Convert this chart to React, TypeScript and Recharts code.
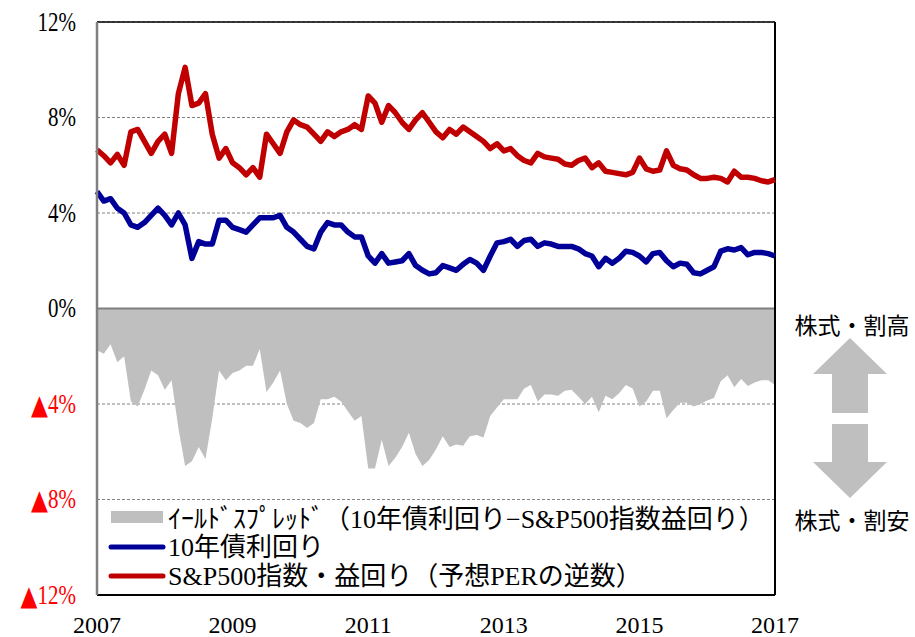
import { ComposedChart, Area, Line, XAxis, YAxis, CartesianGrid, ReferenceLine } from 'recharts'

// weekly-ish samples, one every 0.1 year from 2007.0 to 2017.0
const START_YEAR = 2007
const STEP = 0.1

// S&P500 forward earnings yield (%)
const earningsYield = [
  6.65, 6.4, 6.1, 6.45, 6.0, 7.4, 7.5, 7.0, 6.5, 7.0,
  7.3, 6.5, 9.0, 10.1, 8.5, 8.6, 9.0, 7.3, 6.3, 6.7,
  6.1, 5.9, 5.6, 5.9, 5.5, 7.3, 6.9, 6.5, 7.4, 7.9,
  7.7, 7.6, 7.3, 7.0, 7.4, 7.2, 7.4, 7.5, 7.7, 7.5,
  8.9, 8.6, 7.8, 8.5, 8.2, 7.8, 7.5, 7.9, 8.2, 7.8,
  7.4, 7.15, 7.5, 7.3, 7.6, 7.4, 7.2, 7.0, 6.7, 6.9,
  6.6, 6.7, 6.4, 6.2, 6.1, 6.5, 6.35, 6.3, 6.25, 6.05,
  6.0, 6.2, 6.3, 5.9, 6.1, 5.75, 5.7, 5.65, 5.6, 5.7,
  6.3, 5.85, 5.75, 5.8, 6.6, 6.0, 5.85, 5.8, 5.6, 5.45,
  5.45, 5.5, 5.45, 5.3, 5.75, 5.5, 5.5, 5.45, 5.35, 5.3,
  5.4,
]

// US 10y treasury yield (%)
const bondYield = [
  4.9, 4.5, 4.6, 4.2, 4.0, 3.5, 3.4, 3.6, 3.9, 4.2,
  3.9, 3.5, 4.0, 3.5, 2.1, 2.8, 2.7, 2.7, 3.7, 3.7,
  3.4, 3.3, 3.2, 3.5, 3.8, 3.8, 3.8, 3.9, 3.4, 3.2,
  2.9, 2.6, 2.5, 3.2, 3.6, 3.5, 3.5, 3.2, 3.0, 3.0,
  2.2, 1.9, 2.3, 1.9, 1.95, 2.0, 2.3, 1.8, 1.6, 1.45,
  1.5, 1.8, 1.7, 1.6, 1.85, 2.05, 1.9, 1.6, 2.2, 2.75,
  2.8, 2.9, 2.6, 2.85, 2.9, 2.6, 2.75, 2.7, 2.6, 2.6,
  2.6, 2.5, 2.3, 2.2, 1.75, 2.1, 1.9, 2.1, 2.4, 2.35,
  2.2, 1.95, 2.3, 2.35, 2.0, 1.75, 1.9, 1.85, 1.5, 1.45,
  1.6, 1.75, 2.4, 2.5, 2.45, 2.55, 2.25, 2.35, 2.35, 2.3,
  2.2,
]

// yield spread, 10y minus earnings yield (%)
const yieldSpread = [
  -1.75, -1.9, -1.5, -2.25, -2.0, -3.9, -4.1, -3.4, -2.6, -2.8,
  -3.4, -3.0, -5.0, -6.6, -6.4, -5.8, -6.3, -4.6, -2.6, -3.0,
  -2.7, -2.6, -2.4, -2.4, -1.7, -3.5, -3.1, -2.6, -4.0, -4.7,
  -4.8, -5.0, -4.8, -3.8, -3.8, -3.7, -3.9, -4.3, -4.7, -4.5,
  -6.7, -6.7, -5.5, -6.6, -6.25, -5.8, -5.2, -6.1, -6.6, -6.35,
  -5.9, -5.35, -5.8, -5.7, -5.75, -5.35, -5.3, -5.4, -4.5, -4.15,
  -3.8, -3.8, -3.8, -3.35, -3.2, -3.9, -3.6, -3.6, -3.65, -3.45,
  -3.4, -3.7, -4.0, -3.7, -4.35, -3.65, -3.8, -3.55, -3.2, -3.35,
  -4.1, -3.9, -3.45, -3.45, -4.6, -4.25, -3.95, -3.95, -4.1, -4.0,
  -3.85, -3.75, -3.05, -2.8, -3.3, -2.95, -3.25, -3.1, -3.0, -3.0,
  -3.2,
]

const yearTicks = [2007, 2009, 2011, 2013, 2015, 2017]
const pctTicks = [-12, -8, -4, 0, 4, 8, 12]

const legendLabels = [
  'ｲｰﾙﾄﾞｽﾌﾟﾚｯﾄﾞ（10年債利回り−S&P500指数益回り）',
  '10年債利回り',
  'S&P500指数・益回り（予想PERの逆数）',
]
const sideLabels = ['株式・割高', '株式・割安']

const RED = '#C00000'
const BLUE = '#000099'
const GRAY = '#BFBFBF'
const SERIF = "'Liberation Serif', 'DejaVu Serif', serif"
const JP = "'Liberation Serif', 'Noto Sans CJK JP', sans-serif"

const chartData = earningsYield.map((v, i) => ({
  t: Math.round((START_YEAR + i * STEP) * 100) / 100,
  earnings: v,
  bond: bondYield[i],
  spread: yieldSpread[i],
}))

// the original labels use a tall, narrow face; stretch vertically a bit
function PctTick({ x, y, payload }: any) {
  const v = payload.value as number
  const neg = v < 0
  return (
    <text
      transform={`translate(${x},${y}) scale(1,1.25)`}
      textAnchor="end"
      dominantBaseline="central"
      fill={neg ? '#FF0000' : '#000'}
      fontSize={21}
      fontFamily={SERIF}
    >
      {neg && <tspan fontFamily="'DejaVu Sans', sans-serif" fontSize={22}>▲</tspan>}
      <tspan>{`${Math.abs(v)}%`}</tspan>
    </text>
  )
}

function YearTick({ x, y, payload }: any) {
  return (
    <text x={x} y={y + 38} textAnchor="middle" fill="#000" fontSize={24} fontFamily={SERIF}>
      {payload.value}
    </text>
  )
}

export default function App() {
  return (
    <div style={{ position: 'absolute', left: 0, top: 0, width: 915, height: 637, background: '#fff' }}>
      <ComposedChart
        width={915}
        height={637}
        data={chartData}
        margin={{ top: 22, right: 140, left: 7, bottom: 2 }}
      >
        <CartesianGrid vertical={false} stroke="#808080" strokeDasharray="3 2" />
        <XAxis
          dataKey="t"
          type="number"
          domain={[2007, 2017]}
          ticks={yearTicks}
          height={40}
          tickSize={0}
          tickMargin={0}
          tickLine={false}
          axisLine={{ stroke: '#000', strokeWidth: 2 }}
          tick={<YearTick />}
        />
        <YAxis
          type="number"
          domain={[-12, 12]}
          ticks={pctTicks}
          width={90}
          tickSize={0}
          tickMargin={21}
          tickLine={false}
          axisLine={{ stroke: '#808080', strokeWidth: 2.5 }}
          tick={<PctTick />}
        />
        <Area
          dataKey="spread"
          type="linear"
          stroke="none"
          fill={GRAY}
          fillOpacity={1}
          isAnimationActive={false}
        />
        <ReferenceLine y={0} stroke="#808080" strokeWidth={2} />
        <ReferenceLine y={12} stroke="#000" strokeWidth={1.5} />
        <ReferenceLine x={2017} stroke="#000" strokeWidth={2} />
        <Line
          dataKey="bond"
          type="linear"
          stroke={BLUE}
          strokeWidth={5.5}
          strokeLinejoin="round"
          dot={false}
          isAnimationActive={false}
        />
        <Line
          dataKey="earnings"
          type="linear"
          stroke={RED}
          strokeWidth={5.5}
          strokeLinejoin="round"
          dot={false}
          isAnimationActive={false}
        />
      </ComposedChart>

      <svg
        width={915}
        height={637}
        style={{ position: 'absolute', left: 0, top: 0, pointerEvents: 'none' }}
      >
        {/* legend */}
        <rect x={111} y={511} width={52} height={12} fill={GRAY} />
        <line x1={111} x2={163} y1={547} y2={547} stroke={BLUE} strokeWidth={5} strokeLinecap="round" />
        <line x1={111} x2={163} y1={576} y2={576} stroke={RED} strokeWidth={5} strokeLinecap="round" />
        {legendLabels.map((label, i) => (
          <text
            key={label}
            x={168}
            y={[519, 547, 576][i]}
            dominantBaseline="central"
            fontSize={26}
            fontFamily={JP}
            fill="#000"
          >
            {label}
          </text>
        ))}

        {/* valuation arrows on the right */}
        <polygon points="850,338 887,374 868,374 868,413 832,413 832,374 813,374" fill={GRAY} />
        <polygon points="832,424 868,424 868,462 887,462 850,498 813,462 832,462" fill={GRAY} />
        <text x={852} y={324} textAnchor="middle" dominantBaseline="central" fontSize={23} fontFamily="'Noto Sans CJK JP', sans-serif" fill="#000">
          {sideLabels[0]}
        </text>
        <text x={852} y={519} textAnchor="middle" dominantBaseline="central" fontSize={23} fontFamily="'Noto Sans CJK JP', sans-serif" fill="#000">
          {sideLabels[1]}
        </text>
      </svg>
    </div>
  )
}
